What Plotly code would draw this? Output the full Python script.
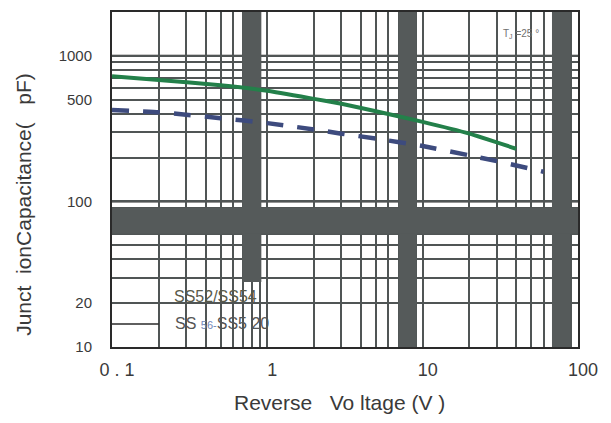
import plotly.graph_objects as go

# ---- data ----
green_v = [0.1, 0.2, 0.5, 1, 2, 3, 5, 10, 20, 40]
green_c = [725, 683, 628, 576, 506, 468, 416, 352, 292, 230]

blue_v = [0.1, 0.2, 0.3, 0.5, 1, 2, 3, 5, 10, 20, 30, 60]
blue_c = [425, 410, 394, 373, 345, 312, 292, 270, 240, 207, 189, 160]

x_grid = [0.1, 0.2, 0.3, 0.4, 0.5, 0.6, 0.7, 0.8, 0.9,
          1, 2, 3, 4, 5, 6, 7, 8, 9,
          10, 20, 30, 40, 50, 60, 70, 80, 90, 100]
x_labels = {0.1: "0 . 1", 1: "1", 10: "10", 100: "100"}

y_grid = [10, 20, 30, 40, 50, 60, 70, 80, 90,
          100, 200, 300, 400, 500, 600, 700, 800, 900,
          1000, 2000]
y_labels = {10: "10", 20: "20", 100: "100", 500: "500", 1000: "1000"}

FONT = "Liberation Sans, Arial, sans-serif"
TXT = "#3a3a3a"
GRID = "#505555"
BAND = "#555a5a"

fig = go.Figure()

fig.add_trace(go.Scatter(x=green_v, y=green_c, mode="lines",
                         line=dict(color="#23804a", width=4, shape="spline", smoothing=0.4),
                         showlegend=False))
fig.add_trace(go.Scatter(x=blue_v, y=blue_c, mode="lines",
                         line=dict(color="#3d4b7e", width=4.5, shape="spline", smoothing=0.4,
                                   dash="17px,14px"),
                         showlegend=False))

# scan artefacts: thick dark bands
bands = [
    dict(x0=0.69, x1=0.915, y0=28, y1=2000),
    dict(x0=7.0, x1=9.15, y0=10, y1=2000),
    dict(x0=68, x1=89, y0=10, y1=2000),
    dict(x0=0.1, x1=100, y0=60, y1=90),
]
for b in bands:
    fig.add_shape(type="rect", xref="x", yref="y", layer="between",
                  line=dict(width=0), fillcolor=BAND, **b)

# heavy grid lines
for yv in [1000, 100]:
    fig.add_shape(type="line", xref="paper", yref="y", x0=0, x1=1, y0=yv, y1=yv,
                  layer="between", line=dict(color="#2a2a2a", width=2))
# small box bottom-left
fig.add_shape(type="line", xref="x", yref="y", x0=0.1, x1=0.2, y0=14.4, y1=14.4,
              layer="between", line=dict(color="#2a2a2a", width=1.5))

fig.update_xaxes(type="log", range=[-1, 2],
                 tickmode="array", tickvals=x_grid,
                 ticktext=[x_labels.get(v, "") for v in x_grid],
                 showgrid=True, gridcolor=GRID, gridwidth=1.6,
                 ticks="", ticklabelstandoff=5, ticklabelshift=5,
                 tickfont=dict(family=FONT, size=18, color=TXT),
                 showline=True, linecolor="#2a2a2a", linewidth=2, mirror=True,
                 zeroline=False)
fig.update_yaxes(type="log", range=[1, 3.30103],
                 tickmode="array", tickvals=y_grid,
                 ticktext=[y_labels.get(v, "") for v in y_grid],
                 showgrid=True, gridcolor=GRID, gridwidth=1.6,
                 ticks="", ticklabelstandoff=15,
                 tickfont=dict(family=FONT, size=15, color=TXT),
                 showline=True, linecolor="#2a2a2a", linewidth=2, mirror=True,
                 zeroline=False)

# page body has an 8px margin; figure sized so the plot area lands at
# window x 112..578, y 10..347
OFF = 8
W, H = 603, 415
L, T = 112 - OFF, 10 - OFF
R = W - (578 - OFF)
B = H - (347 - OFF)
pw, ph = W - L - R, H - T - B

def px(x, y):
    return (x - OFF - L) / pw, 1 - (y - OFF - T) / ph

ann = []
def add(x, y, text, size, color, angle=0, xanchor="center"):
    ax, ay = px(x, y)
    ann.append(dict(x=ax, y=ay, xref="paper", yref="paper", text=text,
                    showarrow=False, textangle=angle,
                    xanchor=xanchor, yanchor="middle",
                    font=dict(family=FONT, size=size, color=color)))

add(339, 403, "Reverse   Vo ltage (V )", 21, TXT)
add(24, 204, "Junct  ionCapacitance(   pF)", 21, TXT, angle=-90)
add(172, 296, "SS52/SS54", 16, "#5a5a4a", xanchor="left")
add(173, 323, "SS <span style='font-size:11px;color:#6f86b8'>56-</span>SS5 20",
    16, "#555555", xanchor="left")
add(521, 32, "T<sub>J</sub> =25 °", 10, "#707070")

fig.update_layout(width=W, height=H, margin=dict(l=L, r=R, t=T, b=B),
                  paper_bgcolor="white", plot_bgcolor="white",
                  showlegend=False, annotations=ann)

fig.write_html("out.html")
